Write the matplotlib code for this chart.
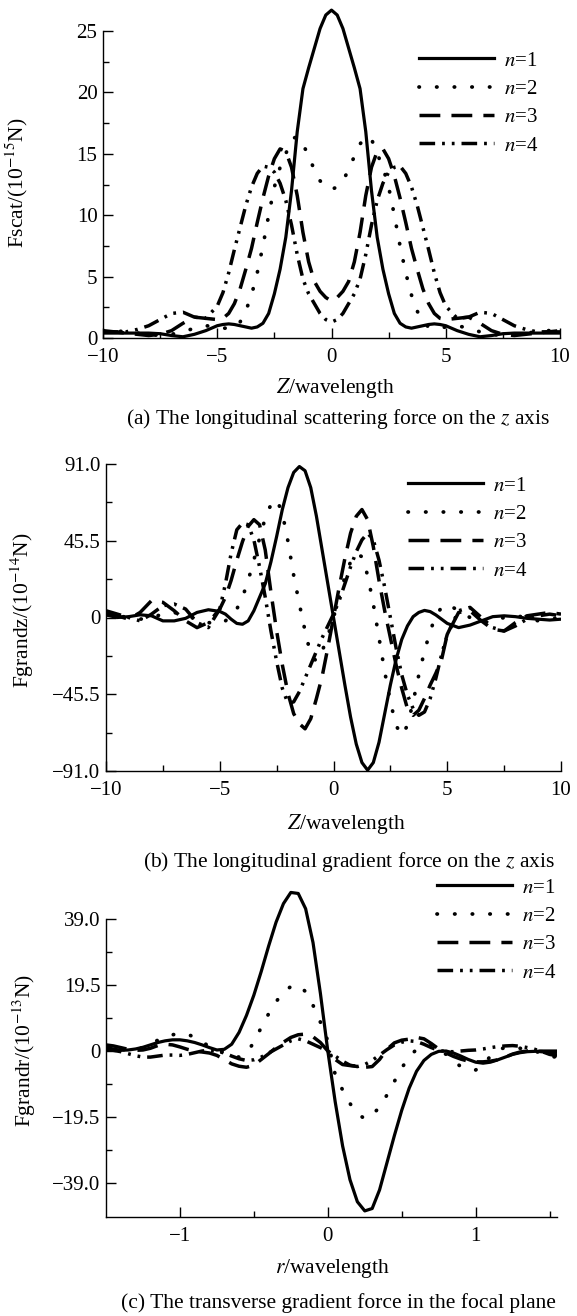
import numpy as np
import matplotlib
matplotlib.use('Agg')
import matplotlib.pyplot as plt

plt.rcParams['font.family'] = ['Liberation Serif', 'DejaVu Serif']
plt.rcParams['mathtext.fontset'] = 'stix'
plt.rcParams['font.size'] = 15

# positions along the axis (wavelengths)
z = np.concatenate([np.arange(-10, -5, 0.5), np.arange(-5, 5, 0.25), np.arange(5, 10.01, 0.5)])
r = np.round(np.arange(-30, 32) * 0.05, 2)

labels = ['$n$=1', '$n$=2', '$n$=3', '$n$=4']

# (a) longitudinal scattering force, 10^-15 N
scat_n1 = [0.4, 0.4, 0.4, 0.4, 0.4, 0.35, 0.2, 0.1, 0.3, 0.6, 1.0, 1.1, 1.15, 1.1, 1.0, 0.9, 0.8, 0.9, 1.2, 2.0,
           3.6, 5.6, 8.2, 12.0, 16.8, 20.3, 22.0, 23.6, 25.2, 26.3, 26.7, 26.3, 25.2, 23.6, 22.0, 20.3, 16.8, 12.0,
           8.2, 5.6, 3.6, 2.0, 1.2, 0.9, 0.8, 0.9, 1.0, 1.1, 1.15, 1.1, 1.0, 0.6, 0.3, 0.1, 0.2, 0.35, 0.4, 0.4,
           0.4, 0.4, 0.4]
scat_n2 = [0.6, 0.6, 0.5, 0.4, 0.3, 0.2, 0.3, 0.5, 0.8, 1.0, 0.9, 0.8, 0.8, 0.9, 1.3, 2.2, 3.5, 5.3, 7.5, 10.0,
           12.3, 13.9, 15.0, 16.2, 16.4, 15.8, 14.8, 13.7, 12.8, 12.3, 12.1, 12.3, 12.8, 13.7, 14.8, 15.8, 16.4,
           16.2, 15.0, 13.9, 12.3, 10.0, 7.5, 5.3, 3.5, 2.2, 1.3, 0.9, 0.8, 0.8, 0.9, 1.0, 0.8, 0.5, 0.3, 0.2,
           0.3, 0.4, 0.5, 0.6, 0.6]
scat_n3 = [0.5, 0.5, 0.4, 0.3, 0.2, 0.3, 0.6, 1.2, 1.7, 1.6, 1.5, 1.6, 2.0, 2.8, 4.0, 5.6, 7.3, 9.4, 11.4, 13.2,
           14.6, 15.4, 15.2, 13.9, 11.6, 8.6, 6.2, 4.6, 3.8, 3.3, 3.0, 3.3, 3.8, 4.6, 6.2, 8.6, 11.6, 13.9, 15.2,
           15.4, 14.6, 13.2, 11.4, 9.4, 7.3, 5.6, 4.0, 2.8, 2.0, 1.6, 1.5, 1.6, 1.7, 1.2, 0.6, 0.3, 0.2, 0.3,
           0.4, 0.5, 0.5]
scat_n4 = [0.6, 0.5, 0.5, 0.7, 1.0, 1.5, 2.0, 2.1, 1.7, 1.6, 2.6, 3.7, 5.3, 7.2, 9.0, 10.8, 12.3, 13.4, 14.0, 13.9,
           13.5, 12.6, 11.2, 9.2, 6.8, 4.8, 3.6, 2.8, 2.0, 1.5, 1.3, 1.5, 2.0, 2.8, 3.6, 4.8, 6.8, 9.2, 11.2,
           12.6, 13.5, 13.9, 14.0, 13.4, 12.3, 10.8, 9.0, 7.2, 5.3, 3.7, 2.6, 1.6, 1.7, 2.1, 2.0, 1.5, 1.0, 0.7,
           0.5, 0.5, 0.6]

# (b) longitudinal gradient force, 10^-14 N
gz_n1 = [1.5, 0, 0.5, 1.6, 1, -2, -2, -0.5, 3, 4.6, 3.6, 2, -1, -3.5, -4, -2, 4, 12, 20, 33, 48, 64, 77, 86,
         89.5, 87, 77, 60, 40, 20, 0, -20, -40, -59, -75, -86, -90.5, -86, -74, -57, -40, -25, -13, -5, 0.5, 3,
         4.2, 3.5, 1.5, -1, -3.5, -6, -4.5, -2, 0.5, 1, 0.5, -0.5, -1, -1.5, -1]
gz_n2 = [2, 1, 0, -1, 0, 2, 3, 1, -1, -3, -4, -2, 1, 5, 12, 22, 34, 47, 59, 67, 70, 62, 45, 25, 8, -8, -22, -26,
         -20, -11, 0, 12, 24, 33, 38, 36, 25, 8, -12, -32, -50, -64, -70, -64, -50, -34, -20, -8, 1, 6, 8, 4, 0,
         -3, -2, 0, 1, 0, -2, -1, 0]
gz_n3 = [3, 1, -1, 3, 10, 9, 4, -2, -6, -3, 5, 12, 22, 34, 45, 54, 58, 55, 40, 15, -8, -28, -45, -57, -63, -66,
         -60, -48, -35, -18, 0, 18, 35, 50, 60, 64, 58, 42, 22, 4, -12, -28, -42, -54, -58, -55, -48, -40, -33,
         -25, -10, 3, 4, -2, -7, -8, -3, 1, 2, 3, 2]
gz_n4 = [4, 2, 0, -2, 2, 7, 8, 5, -3, -6, 5, 20, 38, 52, 56, 55, 46, 30, 12, -8, -26, -42, -51, -50, -44, -36,
         -28, -20, -12, -5, 2, 10, 20, 30, 39, 46, 50, 46, 34, 18, 0, -18, -34, -46, -54, -58, -56, -48, -36,
         -22, -10, 4, 6, 0, -6, -8, -5, -1, 1, 2, 1]

# (c) transverse gradient force, 10^-13 N
gr_n1 = [1.0, 0.6, 0.2, 0.3, 0.6, 1.1, 1.8, 2.5, 3.0, 3.3, 3.3, 3.0, 2.5, 1.8, 1.0, 0.3, 0.5, 2.0, 5.5, 10.5,
         16.5, 23.5, 31.0, 38.0, 43.5, 46.8, 46.5, 42.0, 32.0, 17.0, 0.0, -15, -28, -38, -44.5, -47.2, -46.5,
         -41, -33, -25, -17.5, -11, -6, -2.8, -1.0, -0.1, 0.0, -0.6, -1.5, -2.5, -3.3, -3.6, -3.3, -2.6, -1.8,
         -1.0, -0.5, -0.2, -0.1, 0.0, 0.0, 0.0]
gr_n2 = [1.0, 0.8, 0.5, 0.3, 0.4, 1.0, 2.0, 3.2, 4.2, 4.8, 5.1, 5.0, 4.0, 2.7, 1.3, 0.3, -0.6, -1.5, -1.8, -0.5,
         2.5, 7.0, 11.0, 14.5, 17.5, 19.0, 19.5, 17.5, 13.5, 8.5, 3.0, -7.0, -11.5, -15.5, -18.5, -20.0, -19.0,
         -16.5, -13.0, -9.0, -5.0, -1.8, 0.5, 1.6, 1.5, 0.5, -1.0, -3.0, -4.6, -5.4, -5.6, -4.2, -1.5, 0.4, 1.0,
         1.1, 0.8, 0.4, 0.0, -0.8, -1.6, -1.8]
gr_n3 = [1.8, 1.5, 1.0, 0.5, 0.2, 0.3, 0.8, 1.6, 2.0, 1.8, 1.2, 0.5, 0.0, -0.3, -0.6, -1.3, -2.5, -3.8, -4.5,
         -4.8, -4.2, -2.5, -0.8, 1.0, 2.6, 4.0, 4.8, 5.0, 4.2, 2.5, 0.0, -2.5, -4.0, -4.3, -4.5, -4.8, -4.6,
         -2.5, 0.5, 2.4, 3.2, 3.5, 4.0, 3.6, 2.2, 0.6, -0.6, -1.6, -2.4, -3.0, -3.2, -3.2, -3.0, -2.6, -1.8,
         -0.9, -0.3, 0.0, 0.0, -0.2, -0.4, -0.5]
gr_n4 = [0.5, 0.2, -0.2, -0.8, -1.4, -1.8, -1.8, -1.5, -1.2, -1.2, -1.3, -1.0, -0.5, 0.0, 0.2, 0.0, -0.6, -1.5,
         -2.3, -2.8, -2.6, -1.8, -0.6, 0.6, 1.8, 3.0, 3.6, 3.0, 2.0, 1.0, 0.0, -1.5, -3.0, -4.2, -4.6, -4.0,
         -2.8, -1.2, 0.4, 1.8, 2.6, 3.0, 2.8, 2.0, 1.0, 0.2, -0.2, -0.2, 0.0, 0.2, 0.3, 0.6, 1.0, 1.3, 1.5, 1.6,
         1.4, 1.0, 0.5, -0.2, -1.0, -1.4]

W, H = 577, 1316
fig = plt.figure(figsize=(W / 100, H / 100), dpi=100)


def px_rect(l, t, rgt, b):
    return [l / W, 1 - b / H, (rgt - l) / W, (b - t) / H]


line_styles = [dict(ls='-', lw=2.3),
               dict(ls=(0, (0.1, 4.6)), lw=2.7, dash_capstyle='round'),
               dict(ls=(0, (6, 3.2)), lw=2.5),
               dict(ls=(0, (4.5, 2, 0.8, 2, 0.8, 2)), lw=2.5)]


def draw_panel(rect, x, series, xlim, ylim, spine_top, xmaj, xmin, ymaj, ymin, ylabels, leg_xy):
    ax = fig.add_axes(rect)
    for y, lab, st in zip(series, labels, line_styles):
        ax.plot(x, y, color='black', label=lab, **st)
    ax.set_xlim(xlim)
    ax.set_ylim(ylim)
    ax.spines['top'].set_visible(False)
    ax.spines['right'].set_visible(False)
    ax.spines['left'].set_bounds(ylim[0], spine_top)
    for s in ['left', 'bottom']:
        ax.spines[s].set_linewidth(1.0)
    ax.set_xticks(xmaj)
    ax.set_xticks(xmin, minor=True)
    ax.set_yticks(ymaj)
    ax.set_yticks(ymin, minor=True)
    if ylabels is not None:
        ax.set_yticklabels(ylabels)
    ax.tick_params(which='both', direction='in', width=1.0, labelsize=15)
    ax.tick_params(which='major', length=7)
    ax.tick_params(axis='y', which='major', pad=4)
    ax.tick_params(axis='x', which='major', pad=7)
    ax.tick_params(which='minor', length=4.5)
    ax.legend(loc='upper left', bbox_to_anchor=(leg_xy[0] / W, 1 - leg_xy[1] / H),
              bbox_transform=fig.transFigure, frameon=False, borderpad=0, borderaxespad=0,
              handlelength=3.6, handletextpad=0.5, labelspacing=0.42, fontsize=15)
    return ax


# (a)
draw_panel(px_rect(103, 0.3, 560, 338), z, [scat_n1, scat_n2, scat_n3, scat_n4],
           (-10, 10), (0, 27.5), 25, [-10, -5, 0, 5, 10], [-7.5, -2.5, 2.5, 7.5],
           [0, 5, 10, 15, 20, 25], [2.5, 7.5, 12.5, 17.5, 22.5], None, (419, 51))
fig.text(17 / W, 1 - 183 / H, 'Fscat/(10$^{-15}$N)', rotation=90, ha='center', va='center', fontsize=15.5)
fig.text(335 / W, 1 - 388 / H, '$Z$/wavelength', ha='center', va='center', fontsize=15.5)
fig.text(338 / W, 1 - 419 / H, '(a) The longitudinal scattering force on the $z$ axis',
         ha='center', va='center', fontsize=15.5)

# (b)
draw_panel(px_rect(106, 464, 561, 771), z, [gz_n1, gz_n2, gz_n3, gz_n4],
           (-10, 10), (-91, 91), 91, [-10, -5, 0, 5, 10], [-7.5, -2.5, 2.5, 7.5, 10],
           [-91, -45.5, 0, 45.5, 91], [-68.25, -22.75, 22.75, 68.25],
           ['\u221291.0', '\u221245.5', '0', '45.5', '91.0'], (408, 476))
fig.text(22 / W, 1 - 610 / H, 'Fgrandz/(10$^{-14}$N)', rotation=90, ha='center', va='center', fontsize=15.5)
fig.text(346 / W, 1 - 824 / H, '$Z$/wavelength', ha='center', va='center', fontsize=15.5)
fig.text(349 / W, 1 - 862 / H, '(b) The longitudinal gradient force on the $z$ axis',
         ha='center', va='center', fontsize=15.5)

# (c)
draw_panel(px_rect(106, 885, 557, 1217), r, [gr_n1, gr_n2, gr_n3, gr_n4],
           (-1.5, 1.55), (-49, 49), 39, [-1, 0, 1], [-0.5, 0.5, 1.5],
           [-39, -19.5, 0, 19.5, 39], [-29.25, -9.75, 9.75, 29.25],
           ['\u221239.0', '\u221219.5', '0', '19.5', '39.0'], (437, 878))
fig.text(24 / W, 1 - 1050 / H, 'Fgrandr/(10$^{-13}$N)', rotation=90, ha='center', va='center', fontsize=15.5)
fig.text(333 / W, 1 - 1268 / H, '$r$/wavelength', ha='center', va='center', fontsize=15.5)
fig.text(338 / W, 1 - 1303 / H, '(c) The transverse gradient force in the focal plane',
         ha='center', va='center', fontsize=15.5)

fig.savefig('out.png', dpi=100)
